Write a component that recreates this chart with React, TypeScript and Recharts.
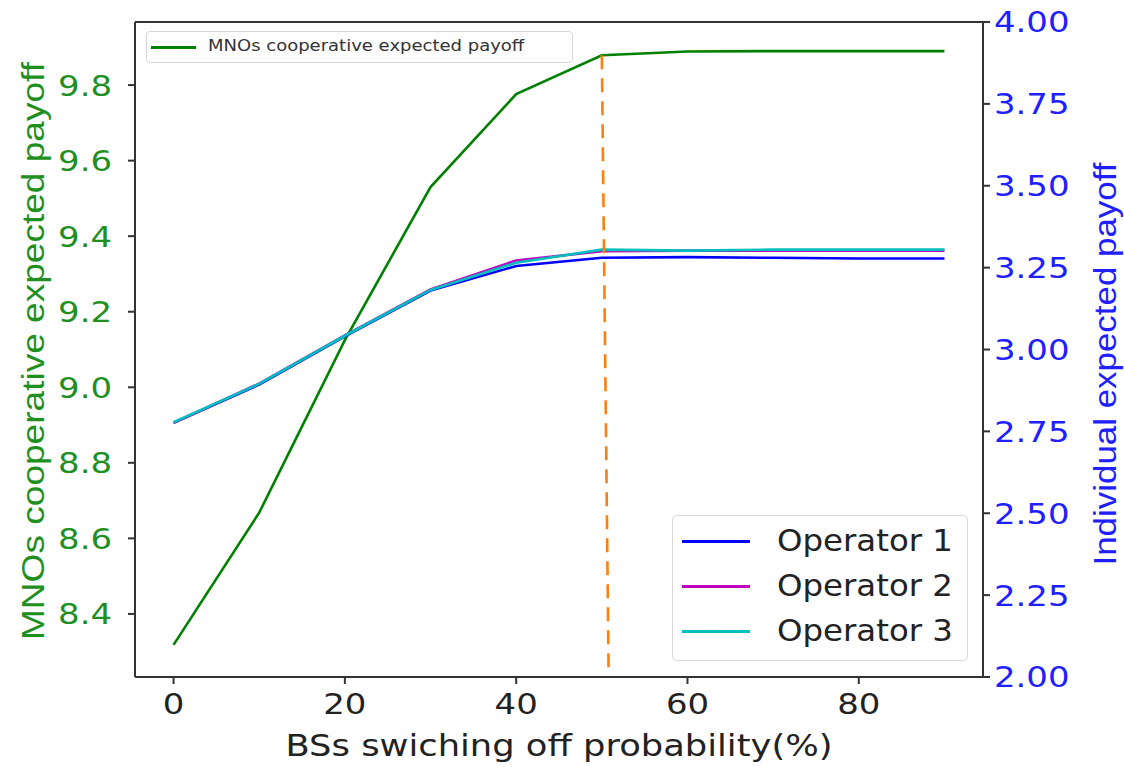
import React from "react";
import { LineChart, Line, XAxis, YAxis, ReferenceLine, Label } from "recharts";

// BSs switching off probability (%)
const probability = [0, 10, 20, 30, 40, 50, 60, 70, 80, 90];
const cooperativePayoff = [8.318, 8.668, 9.125, 9.53, 9.776, 9.879, 9.889, 9.89, 9.89, 9.89];
const operator1 = [2.776, 2.893, 3.04, 3.18, 3.255, 3.28, 3.282, 3.28, 3.278, 3.278];
const operator2 = [2.776, 2.896, 3.043, 3.183, 3.272, 3.3, 3.302, 3.302, 3.302, 3.302];
const operator3 = [2.778, 2.895, 3.042, 3.182, 3.265, 3.305, 3.302, 3.305, 3.305, 3.305];

// orange dashed marker at the saturation point
const thresholdX = [50, 50.8];
const thresholdY = [9.879, 8.233];

const xTicks = [0, 20, 40, 60, 80];
const leftTicks = [8.4, 8.6, 8.8, 9.0, 9.2, 9.4, 9.6, 9.8];
const rightTicks = [2.0, 2.25, 2.5, 2.75, 3.0, 3.25, 3.5, 3.75, 4.0];

const X_DOMAIN: [number, number] = [-4.5, 94.5];
const LEFT_DOMAIN: [number, number] = [8.233, 9.967];
const RIGHT_DOMAIN: [number, number] = [2, 4];

const GREEN = "#008000";
const BLUE = "#0000ff";
const MAGENTA = "#bf00bf";
const CYAN = "#00bfbf";
const ORANGE = "#ff7f0e";
const SPINE = "#333";
const FONT = "DejaVu Sans";

const rows = probability.map((p, i) => ({
  p,
  coop: cooperativePayoff[i],
  op1: operator1[i],
  op2: operator2[i],
  op3: operator3[i],
}));
const thresholdRows = thresholdX.map((p, i) => ({ p, v: thresholdY[i] }));

const StretchTick: React.FC<any> = ({ x, y, payload, anchor, color, digits, dy }) => (
  <text
    transform={`translate(${x},${y}) scale(1.17,1)`}
    textAnchor={anchor}
    fill={color}
    fontSize={29}
    fontFamily={FONT}
    dy={dy}
  >
    {digits >= 0 ? Number(payload.value).toFixed(digits) : payload.value}
  </text>
);

const legendOps = [
  { name: "Operator 1", color: BLUE },
  { name: "Operator 2", color: MAGENTA },
  { name: "Operator 3", color: CYAN },
];

export default function App() {
  return (
    <div style={{ position: "absolute", left: 0, top: 0, width: 1124, height: 767, background: "#fff" }}>
      <LineChart width={1124} height={767} margin={{ top: 22, right: 41, bottom: 50, left: 75 }}>
        <XAxis
          dataKey="p"
          type="number"
          domain={X_DOMAIN}
          ticks={xTicks}
          allowDataOverflow
          height={40}
          tickSize={7}
          tickMargin={8}
          axisLine={{ stroke: SPINE, strokeWidth: 2 }}
          tickLine={{ stroke: SPINE, strokeWidth: 2 }}
          tick={<StretchTick anchor="middle" color="#222" digits={-1} dy="0.75em" />}
        >
          <Label
            content={() => (
              <text x={559} y={756} textAnchor="middle" fill="#222" fontSize={30} fontFamily={FONT}
                textLength={547} lengthAdjust="spacingAndGlyphs">
                BSs swiching off probability(%)
              </text>
            )}
          />
        </XAxis>
        <YAxis
          yAxisId="left"
          orientation="left"
          type="number"
          domain={LEFT_DOMAIN}
          ticks={leftTicks}
          allowDataOverflow
          width={60}
          tickSize={7}
          tickMargin={16}
          axisLine={{ stroke: SPINE, strokeWidth: 2 }}
          tickLine={{ stroke: SPINE, strokeWidth: 2 }}
          tick={<StretchTick anchor="end" color="#1f8f1f" digits={1} dy="0.36em" />}
        >
          <Label
            content={() => (
              <text transform="translate(44,351) rotate(-90)" textAnchor="middle" fill="#1f8f1f" fontSize={31}
                fontFamily="Liberation Sans" textLength={578} lengthAdjust="spacingAndGlyphs">
                MNOs cooperative expected payoff
              </text>
            )}
          />
        </YAxis>
        <YAxis
          yAxisId="right"
          orientation="right"
          type="number"
          domain={RIGHT_DOMAIN}
          ticks={rightTicks}
          allowDataOverflow
          width={100}
          tickSize={7}
          tickMargin={4}
          axisLine={{ stroke: SPINE, strokeWidth: 2 }}
          tickLine={{ stroke: SPINE, strokeWidth: 2 }}
          tick={<StretchTick anchor="start" color="#2020ff" digits={2} dy="0.36em" />}
        >
          <Label
            content={() => (
              <text transform="translate(1116,364) rotate(-90)" textAnchor="middle" fill="#2020ff" fontSize={31}
                fontFamily="Liberation Sans" textLength={403} lengthAdjust="spacingAndGlyphs">
                Individual expected payoff
              </text>
            )}
          />
        </YAxis>
        <ReferenceLine yAxisId="left" y={LEFT_DOMAIN[1]} stroke={SPINE} strokeWidth={2} />

        <Line yAxisId="left" data={rows} dataKey="coop" stroke={GREEN} strokeWidth={2.6} dot={false} isAnimationActive={false} />
        <Line yAxisId="right" data={rows} dataKey="op1" stroke={BLUE} strokeWidth={2.6} dot={false} isAnimationActive={false} />
        <Line yAxisId="right" data={rows} dataKey="op2" stroke={MAGENTA} strokeWidth={2.6} dot={false} isAnimationActive={false} />
        <Line yAxisId="right" data={rows} dataKey="op3" stroke={CYAN} strokeWidth={2.6} dot={false} isAnimationActive={false} />
        <Line yAxisId="left" data={thresholdRows} dataKey="v" stroke={ORANGE} strokeWidth={2.6} strokeDasharray="14 9"
          dot={false} isAnimationActive={false} />
      </LineChart>

      {/* legend: cooperative payoff, top left */}
      <div style={{
        position: "absolute", left: 146, top: 31, width: 427, height: 32, boxSizing: "border-box",
        border: "1px solid #d8d8d8", borderRadius: 4, background: "rgba(255,255,255,0.85)",
      }}>
        <div style={{ position: "absolute", left: 4, top: 14, width: 45, height: 3, background: GREEN }} />
        <span style={{
          position: "absolute", left: 61, top: 5, fontFamily: FONT, fontSize: 15, color: "#333",
          whiteSpace: "nowrap", transform: "scaleX(1.2)", transformOrigin: "left center",
        }}>
          MNOs cooperative expected payoff
        </span>
      </div>

      {/* legend: operators, bottom right */}
      <div style={{
        position: "absolute", left: 672, top: 515, width: 296, height: 146, boxSizing: "border-box",
        border: "1px solid #d8d8d8", borderRadius: 5, background: "rgba(255,255,255,0.85)",
      }}>
        {legendOps.map((o, i) => (
          <div key={o.name} style={{ position: "absolute", left: 0, top: 8 + i * 45, height: 34, width: "100%" }}>
            <div style={{ position: "absolute", left: 9, top: 16, width: 68, height: 3, background: o.color }} />
            <span style={{
              position: "absolute", left: 104, top: -1, fontFamily: FONT, fontSize: 30, color: "#222",
              whiteSpace: "nowrap", transform: "scaleX(1.08)", transformOrigin: "left center",
            }}>
              {o.name}
            </span>
          </div>
        ))}
      </div>
    </div>
  );
}
